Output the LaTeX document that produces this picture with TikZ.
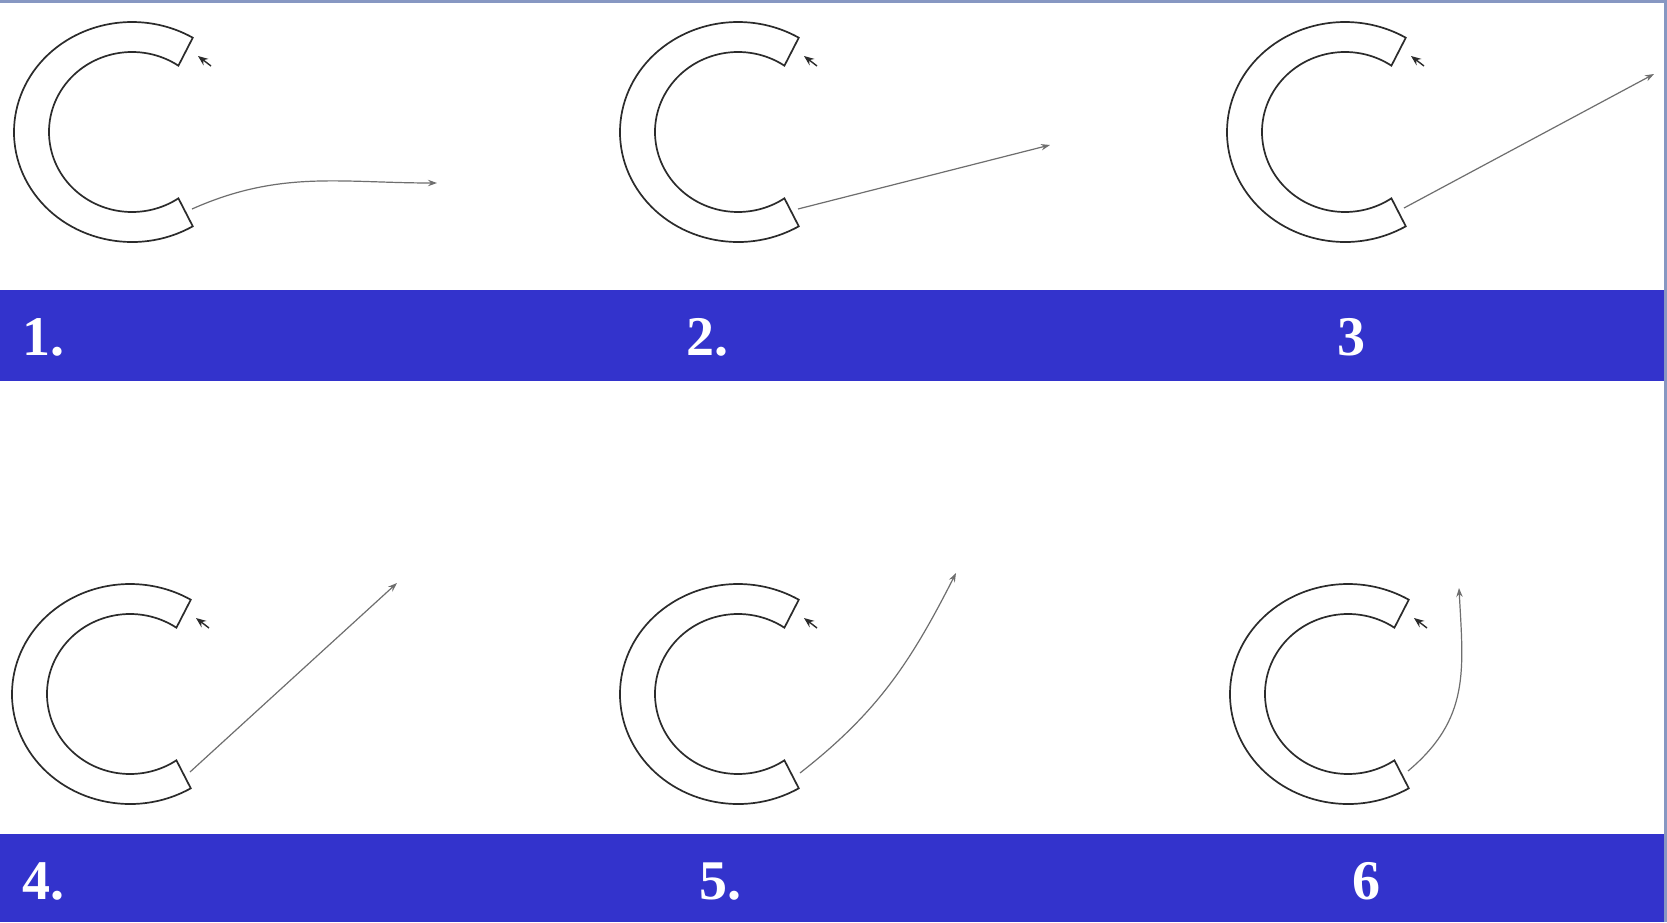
\documentclass[tikz,border=0pt]{standalone}
\usepackage{fontspec}
\setmainfont{Liberation Serif}
\usepackage{tikz}
\usetikzlibrary{arrows.meta,positioning}
\definecolor{band}{HTML}{3333CC}
\definecolor{frame}{HTML}{8797C2}
\definecolor{ink}{HTML}{2B2B2B}
\definecolor{muted}{HTML}{6E6E6E}

\begin{document}
\begin{tikzpicture}[
  x=0.5pt,y=-0.5pt,
  every node/.style={font=\bfseries\fontsize{28}{28}\selectfont},
  bar/.style={fill=band},
  edge/.style={fill=frame},
  num/.style={text=white,anchor=base west,inner sep=0pt},
  ringline/.style={draw=ink,line width=0.85pt},
  tick/.style={draw=ink,line width=0.7pt,-{Stealth[length=5pt,width=4pt]}},
  force/.style={draw=muted,line width=0.6pt,-{Stealth[length=4.5pt,width=3.2pt]}},
  ring/.pic={
    \draw[ringline] (59:118 and 110) arc[start angle=59,end angle=301,x radius=118,y radius=110]
      -- (304:83 and 80) arc[start angle=304,end angle=56,x radius=83,y radius=80] -- cycle;
    \draw[tick] (79,-66) -- (66,-76);
  }
]
\useasboundingbox (0,0) rectangle (1667,922);
\fill[white] (0,0) rectangle (1667,922);

% label bars and frame
\fill[bar] (0,290) rectangle (1664,381);
\fill[bar] (0,834) rectangle (1664,922);
\fill[edge] (0,0) rectangle (1667,3);
\fill[edge] (1664,0) rectangle (1667,922);

\node[num] (n1) at (22,355) {1.};
\node[num] (n2) at (686,355) {2.};
\node[num] (n3) at (1337,355) {3};
\node[num] (n4) at (22,899) {4.};
\node[num] (n5) at (699,899) {5.};
\node[num] (n6) at (1352,899) {6};

% rings
\coordinate (c1) at (132,132);
\coordinate (c2) at (738,132);
\coordinate (c3) at (1345,132);
\coordinate (c4) at (130,694);
\coordinate (c5) at (738,694);
\coordinate (c6) at (1348,694);
\pic at (c1) {ring};
\pic at (c2) {ring};
\pic at (c3) {ring};
\pic at (c4) {ring};
\pic at (c5) {ring};
\pic at (c6) {ring};

% force arrows
\coordinate (s1) at (192,209);
\coordinate (e1) at (437,183);
\coordinate (s2) at (798,209);
\coordinate (e2) at (1050,145);
\coordinate (s3) at (1404,208);
\coordinate (e3) at (1654,74);
\coordinate (s4) at (190,772);
\coordinate (e4) at (397,583);
\coordinate (s5) at (800,773);
\coordinate (e5) at (956,573);
\coordinate (s6) at (1408,771);
\coordinate (e6) at (1459,588);
\draw[force] (s1) to[out=24,in=180] (e1);
\draw[force] (s2) -- (e2);
\draw[force] (s3) -- (e3);
\draw[force] (s4) -- (e4);
\draw[force] (s5) to[out=38,in=-117] (e5);
\draw[force] (s6) to[out=40,in=-87,looseness=1.1] (e6);
\end{tikzpicture}
\end{document}
